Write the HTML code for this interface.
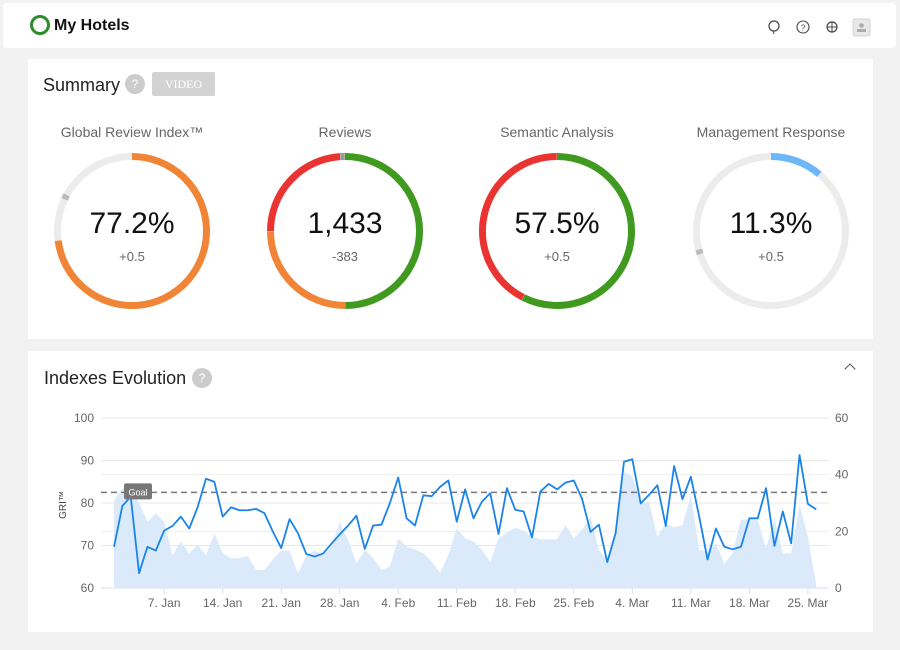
<!DOCTYPE html>
<html><head><meta charset="utf-8">
<style>
body{margin:0;width:900px;height:650px;background:#f2f2f2;font-family:"Liberation Sans",sans-serif;position:relative;overflow:hidden}
.card{position:absolute;background:#fff}
.t{position:absolute;white-space:nowrap}
</style></head><body>
<div class="card" style="left:3px;top:3px;width:893px;height:45px;border-radius:4px">
  <div style="position:absolute;left:27px;top:12px;width:14px;height:14px;border:3px solid #2e8b2e;border-radius:50%"></div>
  <div class="t" style="left:51px;top:14px;font-size:16px;font-weight:bold;color:#111">My Hotels</div>
  <svg style="position:absolute;left:760px;top:12px" width="110" height="24">
    <g><circle cx="11" cy="11" r="5" fill="none" stroke="#444" stroke-width="1.2"/><path d="M10 16 L11 19" stroke="#444"/></g>
    <g><circle cx="40" cy="12" r="6" fill="none" stroke="#444" stroke-width="1.1"/><text x="40" y="15.5" font-size="8" text-anchor="middle" fill="#444">?</text></g>
    <g><circle cx="69" cy="12" r="5" fill="none" stroke="#444" stroke-width="1.2"/><path d="M64 12H74M69 7V17" stroke="#444"/></g>
    <g><rect x="90" y="4" width="17" height="17" rx="2" fill="#e8e8e8" stroke="#d6d6d6"/><circle cx="98.5" cy="10.5" r="2.3" fill="#aaa"/><rect x="94" y="14" width="9" height="3" fill="#aaa"/></g>
  </svg>
</div>

<div class="card" style="left:28px;top:59px;width:845px;height:280px">
  <div class="t" style="left:15px;top:16px;font-size:18px;color:#222">Summary</div>
  <div style="position:absolute;left:97px;top:15px;width:20px;height:20px;border-radius:50%;background:#ccc;color:#fff;font-size:12px;text-align:center;line-height:20px">?</div>
  <div style="position:absolute;left:124px;top:13px;width:63px;height:24px;border-radius:2px;background:#d3d3d3;color:#fff;font-family:'Liberation Serif',serif;font-size:12px;text-align:center;line-height:24px">VIDEO</div>
</div>
<svg style="position:absolute;left:0;top:0" width="900" height="340" id="donuts"></svg>

<div class="card" style="left:28px;top:351px;width:845px;height:281px">
  <div class="t" style="left:16px;top:17px;font-size:18px;color:#222">Indexes Evolution</div>
  <div style="position:absolute;left:164px;top:17px;width:20px;height:20px;border-radius:50%;background:#ccc;color:#fff;font-size:12px;text-align:center;line-height:20px">?</div>
  <div style="position:absolute;left:818px;top:14px;width:7px;height:7px;border-left:1.5px solid #555;border-top:1.5px solid #555;transform:rotate(45deg)"></div>
</div>
<svg style="position:absolute;left:0;top:0" width="900" height="650" id="chart"></svg>

<script>
const NS="http://www.w3.org/2000/svg";
function mk(p,tag,a){const e=document.createElementNS(NS,tag);for(const k in a)e.setAttribute(k,a[k]);p.appendChild(e);return e;}

const donutTitles=["Global Review Index™","Reviews","Semantic Analysis","Management Response"];
const donutValues=["77.2%","1,433","57.5%","11.3%"];
const donutDeltas=["+0.5","-383","+0.5","+0.5"];
const donutSegments=[
 [[0,0.73,"#f08437"],[0.73,1,"#ececec"]],
 [[0,0.5,"#3f9a1f"],[0.5,0.75,"#f08437"],[0.75,0.99,"#ea3431"],[0.99,1,"#999"]],
 [[0,0.575,"#3f9a1f"],[0.575,1,"#ea3431"]],
 [[0,0.113,"#6db6f7"],[0.113,1,"#ececec"]]
];
const donutMarkers=[0.82,null,null,0.70];
const dcx=[132,345,557,771];
const dsv=document.getElementById('donuts');
function pt(cx,cy,r,f){const a=f*2*Math.PI;return [cx+r*Math.sin(a),cy-r*Math.cos(a)];}
donutTitles.forEach((t,i)=>{
  const cx=dcx[i],cy=231,r=74.5;
  const g=mk(dsv,'g',{});
  
  
  donutSegments[i].forEach(s=>{
    const [x1,y1]=pt(cx,cy,r,s[0]),[x2,y2]=pt(cx,cy,r,s[1]-0.0005);
    const p=mk(g,'path',{d:`M${x1} ${y1} A${r} ${r} 0 ${s[1]-s[0]>0.5?1:0} 1 ${x2} ${y2}`,fill:'none',stroke:s[2],'stroke-width':7});
    
    
  });
  if(donutMarkers[i]!=null){const f=donutMarkers[i];const [x1,y1]=pt(cx,cy,r,f),[x2,y2]=pt(cx,cy,r,f+0.01);
    const m=mk(g,'path',{d:`M${x1} ${y1} A${r} ${r} 0 0 1 ${x2} ${y2}`,fill:'none',stroke:'#bbb','stroke-width':7});
    
    }
  const tt=mk(dsv,'text',{x:cx,y:137,'text-anchor':'middle','font-size':14,fill:'#666'});tt.textContent=t;
  
  
  const v=mk(dsv,'text',{x:cx,y:233,'text-anchor':'middle','font-size':30,fill:'#111'});v.textContent=donutValues[i];
  
  
  const d=mk(dsv,'text',{x:cx,y:261,'text-anchor':'middle','font-size':13,fill:'#666'});d.textContent=donutDeltas[i];
  
  
});

const griValues=[69.7,79.3,81.5,63.5,69.7,68.8,73.5,74.6,76.8,74,79,85.7,85,76.8,79,78.3,78.3,78.6,77.6,73.3,69.4,76.2,72.9,68,67.4,68.1,70.4,72.6,74.7,77,69.2,74.7,74.9,80,86,76.4,74.7,81.8,81.6,83.8,85.3,75.6,83.2,76.4,80.3,82.3,72.7,83.5,78.4,78,71.9,82.7,84.5,83.2,84.8,85.3,80.9,73.2,74.9,66.1,72.9,89.7,90.3,79.9,81.9,84.2,74.6,88.7,80.9,86.2,76.8,66.7,74,69.7,69.1,69.7,76.4,76.4,83.5,69.9,78,70.5,91.3,79.8,78.5];
const reviewValues=[31,35,36.4,30,23.4,26.4,23.4,11.6,16.4,12.2,15.2,11.6,19.3,12.2,10.5,10.5,11.3,6.4,6.4,10.1,13.2,13.2,5.2,11.3,13.2,11.6,14.6,23.4,16.9,8.7,13.4,10.5,6.4,7.5,17.5,14.6,13.6,12.2,9.3,5.4,11.6,21,17.5,16.4,13.4,9.3,17.5,19.5,21.3,20.2,18.1,17.2,17.2,17.2,22.2,17.5,20.5,25.2,13.4,9.9,19.3,41,39.3,29.9,30.5,18.1,22.8,21.4,22.2,32.8,13.4,12.8,15.8,8.5,12.2,24.2,24.2,24,14,24.6,12.2,12.2,29.3,18.1,1];
const xTickLabels=["7. Jan","14. Jan","21. Jan","28. Jan","4. Feb","11. Feb","18. Feb","25. Feb","4. Mar","11. Mar","18. Mar","25. Mar"];
const xTickDays=[6,13,20,27,34,41,48,55,62,69,76,83];
const leftTicks=[60,70,80,90,100];
const rightTicks=[0,20,40,60];
const goalValue=82.5;

const X=d=>114+d*8.36;
const YL=v=>588-(v-60)*4.25;
const YR=v=>588-v*(170/60);
const c=document.getElementById('chart');
rightTicks.forEach(v=>{if(v>0&&v<60){const l=mk(c,'line',{x1:101,x2:829,y1:YR(v),y2:YR(v),stroke:'#eee'});
  
  }});
leftTicks.forEach(v=>{const l=mk(c,'line',{x1:101,x2:829,y1:YL(v),y2:YL(v),stroke:v==60?'#d8e0ee':'#e8e8e8'});
  
  
  const t=mk(c,'text',{x:94,y:YL(v)+4,'text-anchor':'end','font-size':12,fill:'#666'});t.textContent=v;
  
  });
rightTicks.forEach(v=>{const t=mk(c,'text',{x:835,y:YR(v)+4,'font-size':12,fill:'#666'});t.textContent=v;
  
  });
const yt=mk(c,'text',{x:0,y:0,transform:'translate(66,505) rotate(-90)','text-anchor':'middle','font-size':10,fill:'#444'});yt.textContent='GRI™';


let ad=`M${X(0)} ${YR(0)}`;reviewValues.forEach((v,i)=>ad+=` L${X(i)} ${YR(v)}`);ad+=` L${X(reviewValues.length-1)} ${YR(0)}Z`;
const area=mk(c,'path',{d:ad,fill:'#dbeafb'});


const gl=mk(c,'line',{x1:101,x2:829,y1:YL(goalValue),y2:YL(goalValue),stroke:'#777','stroke-width':1.5,'stroke-dasharray':'6,4'});


let ld='';griValues.forEach((v,i)=>ld+=(i?' L':'M')+X(i)+' '+YL(v));
const line=mk(c,'path',{d:ld,fill:'none',stroke:'#1a84ea','stroke-width':1.8,'stroke-linejoin':'round'});


const gb=mk(c,'rect',{x:124,y:YL(goalValue)-9,width:28,height:16,rx:2,fill:'#777'});


const gt=mk(c,'text',{x:138,y:YL(goalValue)+3,'text-anchor':'middle','font-size':9,fill:'#fff'});gt.textContent='Goal';


xTickLabels.forEach((s,i)=>{const x=X(xTickDays[i]);
  const tk=mk(c,'line',{x1:x,x2:x,y1:588,y2:594,stroke:'#d8e0ee'});
  
  
  const t=mk(c,'text',{x:x,y:607,'text-anchor':'middle','font-size':12,fill:'#666'});t.textContent=s;
  
  });
</script>
</body></html>
